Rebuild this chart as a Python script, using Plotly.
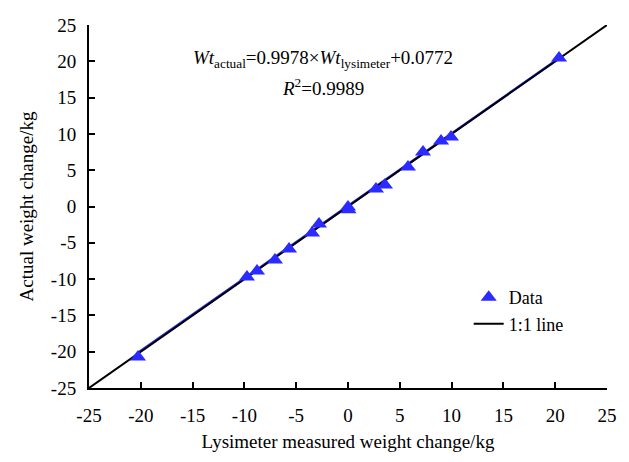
import plotly.graph_objects as go

lys = [-20.27, -9.75, -8.78, -7.05, -5.69, -3.47, -2.80, 0.0, 0.05, 2.70, 3.57, 5.79, 7.24, 8.98, 9.94, 20.37]
act = [-20.73, -9.71, -8.88, -7.37, -5.85, -3.65, -2.41, -0.07, -0.45, 2.41, 2.96, 5.44, 7.51, 9.02, 9.57, 20.45]
slope = 0.9978
intercept = 0.0772
fit_x = [min(lys), max(lys)]
fit_y = [slope * v + intercept for v in fit_x]
one_x = [-25, 25]
one_y = [-25, 25]
ticks = [-25, -20, -15, -10, -5, 0, 5, 10, 15, 20, 25]
tick_text = ["-25", "-20", "-15", "-10", "-5", "0", "5", "10", "15", "20", "25"]

FONT = "Liberation Serif"
fig = go.Figure()
fig.add_trace(go.Scatter(x=fit_x, y=fit_y, mode="lines", line=dict(color="#2b2bff", width=2.5),
                         showlegend=False))
fig.add_trace(go.Scatter(x=one_x, y=one_y, mode="lines", line=dict(color="black", width=2),
                         name="1:1 line", showlegend=False))
fig.add_trace(go.Scatter(x=lys, y=act, mode="markers", name="Data",
                         marker=dict(symbol="triangle-up", size=14, color="#2b2bff")))
fig.add_trace(go.Scatter(x=[None], y=[None], mode="lines", line=dict(color="black", width=2),
                         name="1:1 line"))

axis_common = dict(range=[-25, 25], tickvals=ticks, ticktext=tick_text, ticks="inside", ticklen=6,
                   tickwidth=1.5, tickcolor="black", showline=True, linecolor="black", linewidth=2,
                   showgrid=False, zeroline=False, automargin=False,
                   tickfont=dict(family=FONT, size=19, color="black"))
fig.update_xaxes(**axis_common, ticklabelstandoff=9,
                 title=dict(text="Lysimeter measured weight change/kg",
                            font=dict(family=FONT, size=19, color="black"), standoff=10))
fig.update_yaxes(**axis_common, ticklabelstandoff=7,
                 title=dict(text="Actual weight change/kg",
                            font=dict(family=FONT, size=19, color="black"), standoff=12))

fig.add_annotation(xref="paper", yref="paper", x=0.452, y=0.944, showarrow=False,
                   text="<i>Wt</i><sub>actual</sub>=0.9978×<i>Wt</i><sub>lysimeter</sub>+0.0772",
                   font=dict(family=FONT, size=19, color="black"))
fig.add_annotation(xref="paper", yref="paper", x=0.452, y=0.868, showarrow=False,
                   text="<i>R</i><sup>2</sup>=0.9989",
                   font=dict(family=FONT, size=19, color="black"))

fig.update_layout(width=621, height=454, margin=dict(l=81, r=22, t=17, b=74),
                  paper_bgcolor="white", plot_bgcolor="white",
                  legend=dict(x=0.733, y=0.30, xanchor="left", yanchor="top",
                              font=dict(family=FONT, size=18, color="black"),
                              bgcolor="rgba(0,0,0,0)", tracegroupgap=6))
fig.write_html("out.html")
